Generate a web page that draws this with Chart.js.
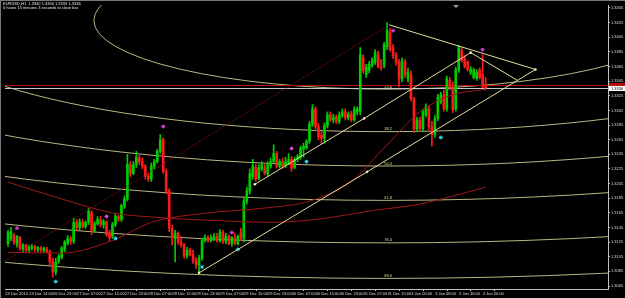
<!DOCTYPE html>
<html>
<head>
<meta charset="utf-8">
<script src="https://cdn.jsdelivr.net/npm/chart.js@4.4.0/dist/chart.umd.min.js"></script>
<style>
html, body { margin: 0; padding: 0; background: #000; }
canvas { display: block; }
</style>
</head>
<body>
<canvas id="priceChart" width="625" height="298"></canvas>
<script>
// --- Data (EURUSD H1) ---
const symbolTitle = 'EURUSD,H1';
const countdownText = '0 hours 15 minutes 3 seconds to close bar';

const xTickLabels = ['24 Dec 2010', '24 Dec 14:00', '26 Dec 23:00', '27 Dec 07:00', '27 Dec 15:00',
    '27 Dec 23:00', '28 Dec 07:00', '28 Dec 15:00', '28 Dec 23:00', '29 Dec 07:00', '29 Dec 15:00',
    '29 Dec 23:00', '30 Dec 07:00', '30 Dec 15:00', '30 Dec 23:00', '31 Dec 07:00', '31 Dec 15:00',
    '3 Jan 00:00', '3 Jan 08:00', '3 Jan 16:00', '4 Jan 00:00'];
const barsPerLabel = 8;

const yTickLabels = ['1.3445', '1.3425', '1.3405', '1.3385', '1.3365', '1.3345', '1.3325', '1.3305',
    '1.3285', '1.3265', '1.3245', '1.3225', '1.3205', '1.3185', '1.3165', '1.3145', '1.3125',
    '1.3105', '1.3085', '1.3065'];

const opens = [
    1.3123, 1.3130, 1.3134, 1.3122, 1.3131, 1.3115, 1.3121, 1.3114, 1.3117, 1.3119,
    1.3115, 1.3117, 1.3114, 1.3115, 1.3112, 1.3098, 1.3084, 1.3099, 1.3104, 1.3115,
    1.3123, 1.3130, 1.3126, 1.3152, 1.3145, 1.3152, 1.3146, 1.3152, 1.3165, 1.3141,
    1.3150, 1.3156, 1.3149, 1.3153, 1.3137, 1.3133, 1.3149, 1.3160, 1.3156, 1.3175,
    1.3184, 1.3231, 1.3219, 1.3231, 1.3240, 1.3235, 1.3229, 1.3215, 1.3211, 1.3229,
    1.3235, 1.3249, 1.3265, 1.3222, 1.3195, 1.3144, 1.3130, 1.3137, 1.3125, 1.3121,
    1.3106, 1.3114, 1.3108, 1.3100, 1.3094, 1.3103, 1.3127, 1.3131, 1.3127, 1.3130,
    1.3133, 1.3127, 1.3138, 1.3126, 1.3133, 1.3123, 1.3131, 1.3123, 1.3138, 1.3130,
    1.3181, 1.3195, 1.3215, 1.3227, 1.3212, 1.3225, 1.3227, 1.3218, 1.3229, 1.3235,
    1.3246, 1.3229, 1.3235, 1.3230, 1.3234, 1.3238, 1.3227, 1.3238, 1.3241, 1.3252,
    1.3254, 1.3263, 1.3286, 1.3307, 1.3283, 1.3271, 1.3267, 1.3284, 1.3299, 1.3292,
    1.3296, 1.3290, 1.3298, 1.3303, 1.3295, 1.3300, 1.3292, 1.3303, 1.3303, 1.3377,
    1.3354, 1.3360, 1.3367, 1.3371, 1.3381, 1.3365, 1.3367, 1.3392, 1.3411, 1.3391,
    1.3380, 1.3371, 1.3348, 1.3371, 1.3348, 1.3354, 1.3321, 1.3280, 1.3292, 1.3280,
    1.3299, 1.3307, 1.3283, 1.3272, 1.3294, 1.3317, 1.3326, 1.3307, 1.3346, 1.3337,
    1.3307, 1.3360, 1.3387, 1.3376, 1.3371, 1.3357, 1.3350, 1.3349, 1.3360, 1.3354,
    1.3340];
const highs = [
    1.3141, 1.3145, 1.3137, 1.3134, 1.3133, 1.3123, 1.3122, 1.3121, 1.3122, 1.3121,
    1.3119, 1.3119, 1.3118, 1.3118, 1.3114, 1.3103, 1.3103, 1.3108, 1.3119, 1.3127,
    1.3134, 1.3133, 1.3158, 1.3156, 1.3157, 1.3156, 1.3154, 1.3171, 1.3168, 1.3153,
    1.3160, 1.3160, 1.3156, 1.3154, 1.3141, 1.3152, 1.3164, 1.3162, 1.3177, 1.3188,
    1.3245, 1.3235, 1.3235, 1.3249, 1.3244, 1.3240, 1.3231, 1.3219, 1.3233, 1.3238,
    1.3252, 1.3272, 1.3268, 1.3225, 1.3198, 1.3148, 1.3141, 1.3139, 1.3133, 1.3123,
    1.3118, 1.3117, 1.3114, 1.3104, 1.3107, 1.3130, 1.3135, 1.3134, 1.3135, 1.3137,
    1.3137, 1.3142, 1.3141, 1.3137, 1.3135, 1.3133, 1.3137, 1.3135, 1.3144, 1.3187,
    1.3200, 1.3225, 1.3238, 1.3231, 1.3231, 1.3235, 1.3231, 1.3235, 1.3240, 1.3258,
    1.3249, 1.3238, 1.3240, 1.3241, 1.3246, 1.3242, 1.3241, 1.3245, 1.3256, 1.3260,
    1.3265, 1.3290, 1.3313, 1.3310, 1.3287, 1.3276, 1.3288, 1.3303, 1.3303, 1.3300,
    1.3299, 1.3303, 1.3307, 1.3307, 1.3303, 1.3304, 1.3310, 1.3310, 1.3391, 1.3381,
    1.3368, 1.3372, 1.3377, 1.3388, 1.3386, 1.3375, 1.3398, 1.3425, 1.3417, 1.3395,
    1.3384, 1.3375, 1.3377, 1.3375, 1.3363, 1.3359, 1.3323, 1.3296, 1.3296, 1.3307,
    1.3314, 1.3311, 1.3290, 1.3298, 1.3327, 1.3330, 1.3333, 1.3352, 1.3350, 1.3344,
    1.3364, 1.3394, 1.3391, 1.3380, 1.3373, 1.3365, 1.3363, 1.3361, 1.3363, 1.3381,
    1.3350];
const lows = [
    1.3119, 1.3127, 1.3122, 1.3118, 1.3114, 1.3112, 1.3111, 1.3111, 1.3114, 1.3112,
    1.3112, 1.3111, 1.3111, 1.3110, 1.3094, 1.3077, 1.3080, 1.3096, 1.3102, 1.3112,
    1.3121, 1.3122, 1.3123, 1.3141, 1.3142, 1.3144, 1.3144, 1.3149, 1.3135, 1.3138,
    1.3148, 1.3146, 1.3144, 1.3133, 1.3127, 1.3130, 1.3146, 1.3153, 1.3153, 1.3171,
    1.3181, 1.3214, 1.3217, 1.3227, 1.3231, 1.3225, 1.3211, 1.3208, 1.3208, 1.3225,
    1.3233, 1.3246, 1.3219, 1.3191, 1.3139, 1.3121, 1.3098, 1.3122, 1.3118, 1.3103,
    1.3103, 1.3106, 1.3096, 1.3089, 1.3081, 1.3100, 1.3125, 1.3125, 1.3125, 1.3127,
    1.3125, 1.3125, 1.3123, 1.3123, 1.3121, 1.3119, 1.3121, 1.3121, 1.3127, 1.3125,
    1.3177, 1.3191, 1.3211, 1.3208, 1.3210, 1.3222, 1.3217, 1.3215, 1.3226, 1.3233,
    1.3226, 1.3226, 1.3226, 1.3227, 1.3231, 1.3222, 1.3225, 1.3235, 1.3238, 1.3241,
    1.3252, 1.3260, 1.3283, 1.3280, 1.3265, 1.3260, 1.3260, 1.3281, 1.3290, 1.3288,
    1.3287, 1.3287, 1.3295, 1.3292, 1.3292, 1.3290, 1.3290, 1.3299, 1.3299, 1.3356,
    1.3350, 1.3356, 1.3364, 1.3368, 1.3363, 1.3360, 1.3363, 1.3388, 1.3386, 1.3376,
    1.3367, 1.3337, 1.3344, 1.3350, 1.3344, 1.3318, 1.3275, 1.3276, 1.3276, 1.3276,
    1.3296, 1.3279, 1.3256, 1.3268, 1.3291, 1.3314, 1.3304, 1.3304, 1.3333, 1.3302,
    1.3304, 1.3357, 1.3371, 1.3363, 1.3359, 1.3354, 1.3348, 1.3346, 1.3348, 1.3336,
    1.3333];
const closes = [
    1.3138, 1.3139, 1.3125, 1.3133, 1.3117, 1.3121, 1.3114, 1.3118, 1.3119, 1.3115,
    1.3118, 1.3114, 1.3117, 1.3112, 1.3098, 1.3084, 1.3098, 1.3106, 1.3117, 1.3125,
    1.3130, 1.3126, 1.3152, 1.3145, 1.3153, 1.3146, 1.3152, 1.3167, 1.3141, 1.3150,
    1.3156, 1.3149, 1.3153, 1.3135, 1.3131, 1.3149, 1.3160, 1.3156, 1.3175, 1.3184,
    1.3231, 1.3219, 1.3231, 1.3241, 1.3235, 1.3229, 1.3215, 1.3211, 1.3229, 1.3235,
    1.3249, 1.3265, 1.3222, 1.3195, 1.3144, 1.3133, 1.3137, 1.3125, 1.3121, 1.3106,
    1.3114, 1.3108, 1.3100, 1.3094, 1.3103, 1.3127, 1.3131, 1.3127, 1.3131, 1.3133,
    1.3127, 1.3139, 1.3126, 1.3133, 1.3123, 1.3131, 1.3123, 1.3133, 1.3130, 1.3181,
    1.3195, 1.3219, 1.3229, 1.3211, 1.3227, 1.3231, 1.3219, 1.3231, 1.3235, 1.3246,
    1.3229, 1.3235, 1.3229, 1.3235, 1.3238, 1.3226, 1.3238, 1.3242, 1.3253, 1.3256,
    1.3263, 1.3286, 1.3307, 1.3283, 1.3269, 1.3267, 1.3284, 1.3299, 1.3292, 1.3296,
    1.3290, 1.3299, 1.3303, 1.3295, 1.3300, 1.3292, 1.3306, 1.3307, 1.3381, 1.3360,
    1.3364, 1.3368, 1.3373, 1.3384, 1.3365, 1.3364, 1.3394, 1.3414, 1.3388, 1.3380,
    1.3371, 1.3348, 1.3373, 1.3354, 1.3357, 1.3321, 1.3280, 1.3292, 1.3280, 1.3303,
    1.3310, 1.3283, 1.3272, 1.3294, 1.3323, 1.3326, 1.3307, 1.3348, 1.3337, 1.3306,
    1.3360, 1.3391, 1.3373, 1.3365, 1.3361, 1.3361, 1.3360, 1.3357, 1.3350, 1.3338,
    1.3336];

// moving averages: vertices (bar index, price)
const maFastBars = [0, 18, 35, 48, 65, 87, 101, 115, 127, 138, 148, 160];
const maFastValues = [1.3111, 1.3110, 1.3127, 1.3152, 1.3164, 1.3172, 1.3181, 1.3208, 1.3258, 1.3303, 1.3325, 1.3334];
const maSlowBars = [0, 18, 35, 53, 72, 89, 105, 122, 138, 160];
const maSlowValues = [1.3207, 1.3184, 1.3165, 1.3158, 1.3154, 1.3152, 1.3157, 1.3168, 1.3177, 1.3200];

// fractal arrows
const fractalUpBars = [3, 33, 52, 75, 95, 129, 159];
const fractalUpValues = [1.3144, 1.3160, 1.3283, 1.3138, 1.3253, 1.3414, 1.3388];
const fractalDownBars = [16, 36, 65, 77, 100, 145];
const fractalDownValues = [1.3071, 1.3130, 1.3091, 1.3115, 1.3235, 1.3268];

// drawn objects: trend lines (bar index, price)
const lowerChannel = [[64, 1.3083], [120.3, 1.3221], [176.7, 1.3361]];
const upperChannel = [[82.7, 1.3204], [119.3, 1.3294], [155, 1.3384]];
const topChannel = [[-1, 1.3099], [127.7, 1.3422]];
const wedgeTop = [[127.7, 1.3422], [176.7, 1.3361]];
const wedgeInner = [[155, 1.3384], [170.7, 1.3346]];

// fibonacci arcs
const fibLevels = [23.6, 38.2, 50.0, 61.8, 76.4, 88.6];
const fibCenterBar = 126.7;
const fibCenterPrice = 1.3428;
const fibSpanBars = 415;
const fibSpanPrice = 0.0398;

// horizontal lines
const redLevel = 1.3340;
const bidPrice = closes[closes.length - 1];

// --- Chart ---
const FONT = "'Liberation Sans', Arial, sans-serif";
const bars = opens.map((o, i) => i);
const upColor = '#00cc00';
const downColor = '#ff1a1a';
const candleColors = bars.map(i => closes[i] >= opens[i] ? upColor : downColor);

function pts(xs, ys) { return xs.map((x, i) => ({ x: x, y: ys[i] })); }
function seg(list) { return list.map(p => ({ x: p[0], y: p[1] })); }

const overlay = {
    id: 'overlay',
    beforeDraw(chart) {
        const c = chart.ctx;
        c.save();
        c.fillStyle = '#000';
        c.fillRect(0, 0, chart.width, chart.height);
        c.restore();
    },
    beforeDatasetsDraw(chart) {
        const { ctx: c, chartArea: a, scales: { x, y } } = chart;
        c.save();
        c.beginPath();
        c.rect(a.left, a.top, a.right - a.left, a.bottom - a.top);
        c.clip();

        // fibo arcs
        const cx = x.getPixelForValue(fibCenterBar);
        const cy = y.getPixelForValue(fibCenterPrice);
        c.strokeStyle = '#b8b882';
        c.fillStyle = '#d8d890';
        c.lineWidth = 1;
        c.font = '4px ' + FONT;
        c.textAlign = 'center';
        c.textBaseline = 'bottom';
        fibLevels.forEach(L => {
            const rx = Math.abs(x.getPixelForValue(fibCenterBar + L / 100 * fibSpanBars) - cx);
            const ry = Math.abs(y.getPixelForValue(fibCenterPrice - L / 100 * fibSpanPrice) - cy);
            c.beginPath();
            c.ellipse(cx, cy, rx, ry, 0, 0, Math.PI * 2);
            c.stroke();
            c.fillText(L.toFixed(1), cx + 2, cy + ry - 0.5);
        });

        // horizontal lines
        const yr = Math.round(y.getPixelForValue(redLevel)) + 0.5;
        c.strokeStyle = '#b01010';
        c.beginPath(); c.moveTo(a.left, yr); c.lineTo(a.right, yr); c.stroke();
        const yb = Math.round(y.getPixelForValue(bidPrice)) + 0.5;
        c.strokeStyle = '#c8c8c8';
        c.beginPath(); c.moveTo(a.left, yb); c.lineTo(a.right, yb); c.stroke();
        c.restore();
    },
    afterDraw(chart) {
        const { ctx: c, chartArea: a, scales: { y } } = chart;
        c.save();
        // window frame
        c.fillStyle = '#7a7a7a';
        c.fillRect(0, 0, chart.width, 1);
        c.fillRect(0, 0, 1, chart.height);

        // price boxes on the axis
        c.font = '4px ' + FONT;
        c.textBaseline = 'middle';
        c.textAlign = 'left';
        const yr = Math.round(y.getPixelForValue(redLevel));
        c.fillStyle = '#b01010';
        c.fillRect(a.right + 1, yr - 2, chart.width - a.right - 1, 5);
        const yb = Math.round(y.getPixelForValue(bidPrice));
        c.fillStyle = '#ffffff';
        c.fillRect(a.right + 1, yb - 2, chart.width - a.right - 1, 5);
        c.fillStyle = '#000';
        c.fillText(bidPrice.toFixed(4), a.right + 3, yb + 0.5);

        // header
        c.fillStyle = '#e8e8e8';
        c.textBaseline = 'top';
        const ohlc = [opens, highs, lows, closes].map(s => s[s.length - 1].toFixed(4)).join(' ');
        c.fillText(symbolTitle + '  ' + ohlc, 3, 2);
        c.fillText(countdownText, 3, 6);

        // chart shift marker
        c.fillStyle = '#9a9a9a';
        c.beginPath();
        c.moveTo(453, a.top); c.lineTo(459, a.top); c.lineTo(456, a.top + 3); c.closePath();
        c.fill();
        c.restore();
    }
};

function lineObj(list, color, dotted, dots) {
    return {
        type: 'line', data: seg(list), borderColor: color, borderWidth: 1,
        borderDash: dotted ? [1, 1] : [], pointRadius: dots ? 1.3 : 0,
        pointBackgroundColor: '#f4f0c0', pointBorderWidth: 0, order: 0
    };
}

const ctx = document.getElementById('priceChart').getContext('2d');
new Chart(ctx, {
    type: 'bar',
    data: {
        datasets: [
            {
                label: 'wicks', data: bars.map(i => ({ x: i, y: [lows[i], highs[i]] })),
                backgroundColor: candleColors, barThickness: 1, grouped: false, order: 5
            },
            {
                label: 'bodies', data: bars.map(i => ({ x: i, y: [opens[i], closes[i]] })),
                backgroundColor: candleColors, barThickness: 2, grouped: false, order: 4
            },
            {
                type: 'line', label: 'MA slow', data: pts(maSlowBars, maSlowValues),
                borderColor: '#a01818', borderWidth: 1, pointRadius: 0, cubicInterpolationMode: 'monotone', order: 2
            },
            {
                type: 'line', label: 'MA fast', data: pts(maFastBars, maFastValues),
                borderColor: '#a01818', borderWidth: 1, pointRadius: 0, cubicInterpolationMode: 'monotone', order: 2
            },
            lineObj(topChannel, '#8c1414', true, false),
            lineObj(lowerChannel, '#e4dea0', false, true),
            lineObj(upperChannel, '#e4dea0', false, true),
            lineObj(wedgeTop, '#e4dea0', false, false),
            lineObj(wedgeInner, '#e4dea0', false, false),
            {
                type: 'line', label: 'fractal up', data: pts(fractalUpBars, fractalUpValues), showLine: false,
                pointStyle: 'star', pointRadius: 2, borderColor: '#e040e0', borderWidth: 1, order: 0
            },
            {
                type: 'line', label: 'fractal down', data: pts(fractalDownBars, fractalDownValues), showLine: false,
                pointStyle: 'star', pointRadius: 2, borderColor: '#30d8e8', borderWidth: 1, order: 0
            }
        ]
    },
    options: {
        responsive: false,
        animation: false,
        devicePixelRatio: 1,
        layout: { padding: { left: 2, top: 2, right: 0, bottom: 0 } },
        plugins: { legend: { display: false }, tooltip: { enabled: false } },
        scales: {
            x: {
                type: 'linear', min: -1, max: 201, offset: false,
                afterFit: s => { s.height = 9; },
                afterBuildTicks: s => { s.ticks = xTickLabels.map((t, k) => ({ value: k * barsPerLabel - 0.9 })); },
                ticks: {
                    autoSkip: false, maxRotation: 0, minRotation: 0, align: 'start', padding: 0,
                    color: '#dcdcdc', font: { family: FONT, size: 4 },
                    callback: (v, i) => xTickLabels[i]
                },
                grid: { drawOnChartArea: false, tickLength: 2, color: '#c0c0c0' },
                border: { color: '#c0c0c0' }
            },
            y: {
                position: 'right', min: 1.30609, max: 1.34491,
                afterFit: s => { s.width = 17; },
                afterBuildTicks: s => { s.ticks = yTickLabels.map(t => ({ value: parseFloat(t) })); },
                ticks: {
                    autoSkip: false, padding: 1, color: '#dcdcdc', font: { family: FONT, size: 4 },
                    callback: (v, i) => yTickLabels[i]
                },
                grid: { drawOnChartArea: false, tickLength: 2, color: '#c0c0c0' },
                border: { color: '#c0c0c0' }
            }
        }
    },
    plugins: [overlay]
});
</script>
</body>
</html>
